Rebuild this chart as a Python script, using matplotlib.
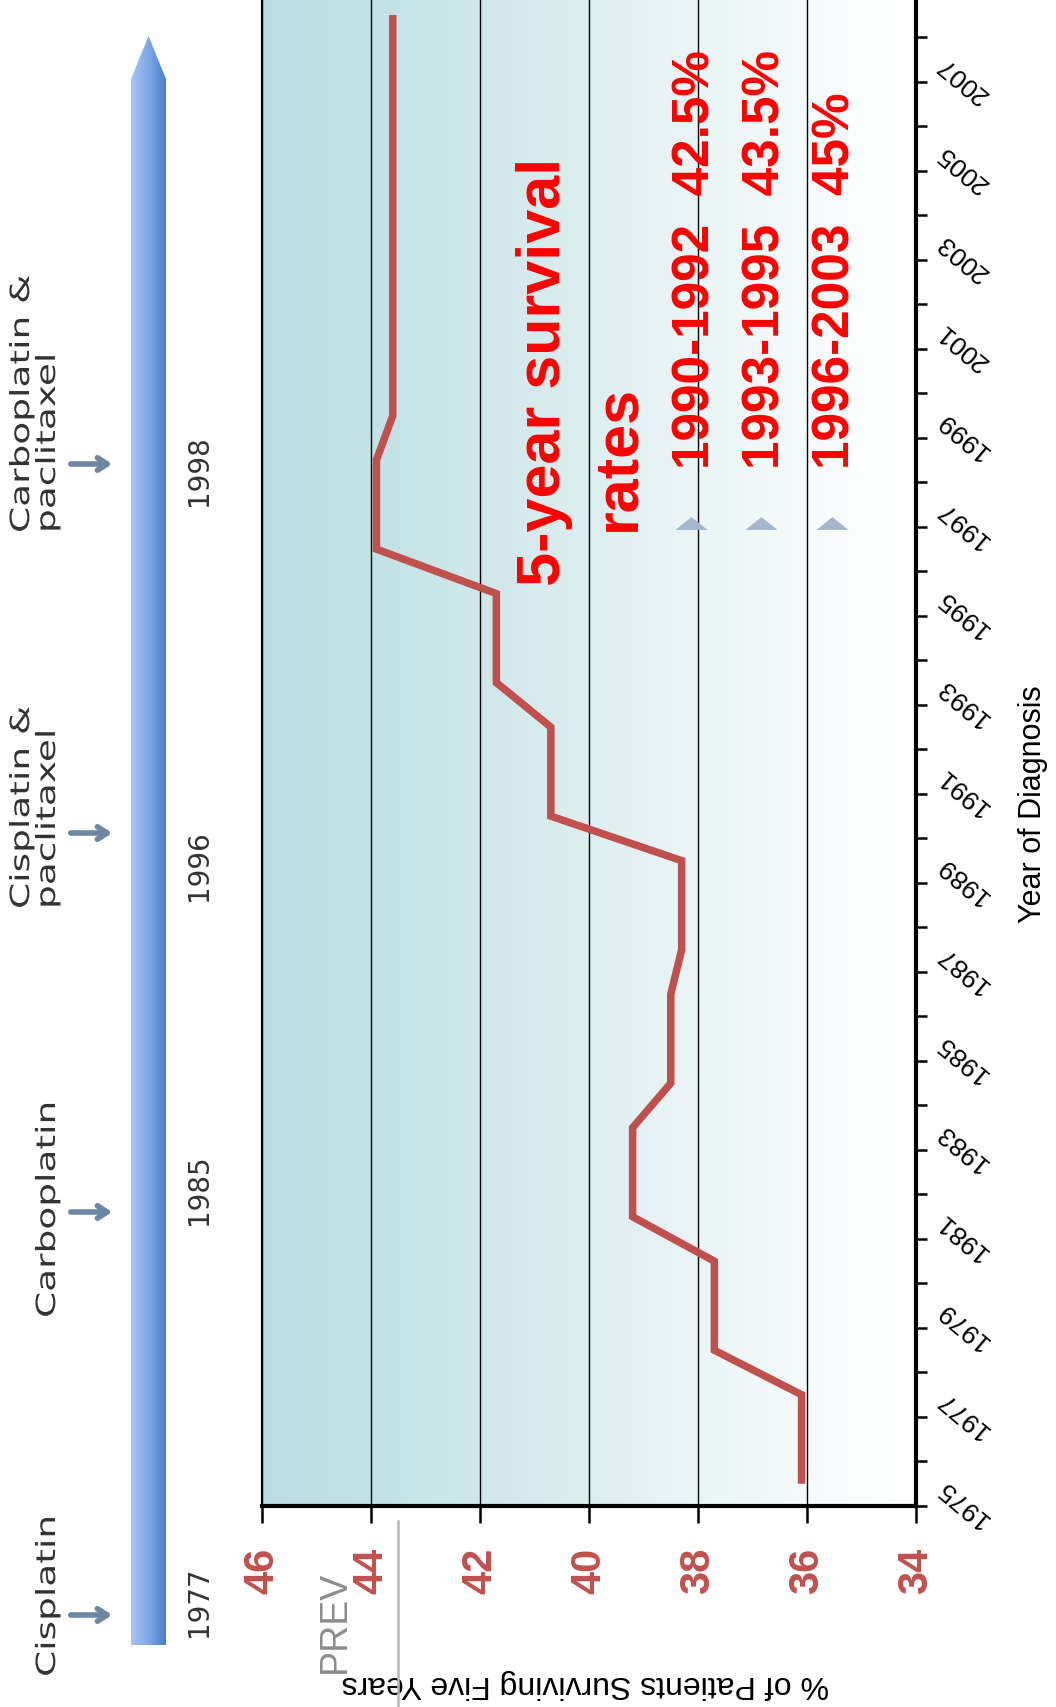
import matplotlib.pyplot as plt
import numpy as np
from matplotlib.colors import LinearSegmentedColormap
from matplotlib.patches import Polygon
from matplotlib.patheffects import AbstractPathEffect
from matplotlib.transforms import Affine2D, offset_copy

# five-year survival (%) by year of diagnosis
years = list(range(1975, 2009))
survival = [36.1, 36.1, 36.1, 37.7, 37.7, 37.7, 39.2, 39.2, 39.2,
            38.5, 38.5, 38.5, 38.3, 38.3, 38.3, 40.7, 40.7, 40.7,
            41.7, 41.7, 41.7, 43.9, 43.9, 43.9, 43.6, 43.6, 43.6,
            43.6, 43.6, 43.6, 43.6, 43.6, 43.6, 43.6]
pct_ticks = [46, 44, 42, 40, 38, 36, 34]
year_ticks = list(range(1975, 2008, 2))

# callout
rate_periods = ["1990-1992", "1993-1995", "1996-2003"]
rate_values = ["42.5%", "43.5%", "45%"]

# treatment timeline
treatments = ["Cisplatin", "Carboplatin", "Cisplatin &\npaclitaxel",
              "Carboplatin &\npaclitaxel"]
introduced = ["1977", "1985", "1996", "1998"]

RED = "#c0504d"
SANS = "Liberation Sans"
W, H = 1056, 1708


class Widen(AbstractPathEffect):
    """Stretch glyphs along the reading direction of each line."""

    def __init__(self, factor):
        super().__init__()
        self._factor = factor

    def draw_path(self, renderer, gc, tpath, affine, rgbFace=None):
        renderer.draw_path(gc, tpath, Affine2D().scale(self._factor, 1) + affine, rgbFace)


fig = plt.figure(figsize=(W / 100, H / 100), dpi=100)

# ---- main chart (turned on its side: % runs right-to-left, years run up)
ax = fig.add_axes([262 / W, 1 - 1507 / H, 654 / W, 1507 / H])
bg = LinearSegmentedColormap.from_list(
    "bg", ["#b9dee2", "#c5e3e6", "#d4eaec", "#e6f2f4", "#f3f9f9", "#ffffff"])
ax.imshow(np.linspace(0, 1, 256).reshape(1, -1), cmap=bg,
          extent=(46, 34, 1974.5, 2008.36), aspect="auto",
          interpolation="bilinear", zorder=0)
ax.plot(survival, years, color=RED, lw=5.4, solid_capstyle="butt",
        solid_joinstyle="miter", zorder=3)
ax.set_xlim(46, 34)
ax.set_ylim(1974.5, 2008.36)

ax.set_xticks(pct_ticks)
ax.set_xticklabels([str(v) for v in pct_ticks])
ax.grid(axis="x", color="black", lw=1.0)
ax.tick_params(axis="x", direction="out", length=12, width=1.8, pad=17,
               labelsize=30, labelcolor=RED, labelrotation=90)
for t in ax.get_xticklabels():
    t.set_fontweight("bold")
    t.set_family(SANS)

ax.yaxis.tick_right()
ax.set_yticks(np.arange(1974.5, 2008, 1.0))
ax.set_yticklabels([])
ax.tick_params(axis="y", direction="out", length=8, width=1.8)

lab_tf = offset_copy(ax.get_yaxis_transform(), fig=fig, x=24, y=0, units="dots")
for yr in year_ticks:
    ax.text(1.0, yr, str(yr), transform=lab_tf, rotation=140,
            rotation_mode="anchor", ha="right", va="center",
            fontsize=19, family=SANS)

ax.spines["top"].set_visible(False)
ax.spines["left"].set_linewidth(1.5)
ax.spines["bottom"].set_linewidth(3)
ax.spines["right"].set_linewidth(3)

ax.set_xlabel("% of Patients Surviving Five Years", fontsize=23,
              family=SANS, rotation=180, va="center")
ax.xaxis.set_label_coords(0.495, -0.1175)
ax.set_ylabel("Year of Diagnosis", fontsize=22, family=SANS)
ax.yaxis.set_label_position("right")
ax.yaxis.label.set_va("center")
ax.yaxis.set_label_coords(1.179, 0.4665)

# ---- overlay in pixel units for the timeline and callout
deco = fig.add_axes([0, 0, 1, 1], zorder=5)
deco.axis("off")

bar = Polygon([(131, 1646), (131, 80), (148.5, 37), (166, 80), (166, 1646)],
              closed=True, fc="none", ec="none")
deco.add_patch(bar)
bar_cmap = LinearSegmentedColormap.from_list("bar", ["#a6c6f4", "#7fa8e6", "#4a7dcb"])
im = deco.imshow(np.linspace(0, 1, 64).reshape(1, -1), cmap=bar_cmap,
                 extent=(131, 166, 1646, 37), aspect="auto", interpolation="bilinear")
im.set_clip_path(bar)

arrow_y = [1616, 1213, 834, 465]
label_base = [1678, 1319, 910, 534]
year_y = [1602, 1190, 866, 471]
for name, yr, ay, ly, yy in zip(treatments, introduced, arrow_y, label_base, year_y):
    deco.annotate("", xy=(115, ay), xytext=(68, ay),
                  arrowprops=dict(arrowstyle="->,head_length=0.7,head_width=0.45",
                                  color="#6c86a3", lw=4))
    deco.text(61, ly, name, rotation=90, ha="right", va="bottom",
              multialignment="left", fontsize=19, color="#333333",
              linespacing=1.0, path_effects=[Widen(1.42)])
    deco.text(199, yy, yr, rotation=90, ha="center", va="center",
              fontsize=20, color="#333333")

deco.text(560, 586, "5-year survival", rotation=90, rotation_mode="anchor",
          ha="left", va="baseline", fontsize=44, fontweight="bold",
          color="red", family=SANS)
deco.text(634, 531, "rates", rotation=90, rotation_mode="anchor",
          ha="left", va="baseline", fontsize=44, fontweight="bold",
          color="red", family=SANS)

tri = [(-1, -0.4), (1, -0.4), (0, 0.4)]
rate_base = [709, 779, 850]
for period, value, bx in zip(rate_periods, rate_values, rate_base):
    deco.text(bx, 469, f"{period}  {value}", rotation=90, rotation_mode="anchor",
              ha="left", va="baseline", fontsize=37, fontweight="bold",
              color="red", family=SANS)
    deco.plot([bx - 18], [524], marker=tri, ms=23, color="#a3b6cc", mec="none")

deco.text(335, 1622, "PREV", rotation=90, ha="center", va="center",
          fontsize=27, color="#8c8c8c", family=SANS)
deco.plot([398, 398], [1522, H], color="#b8b8b8", lw=1.8)

deco.set_xlim(0, W)
deco.set_ylim(H, 0)

fig.savefig("out.png", dpi=100)
